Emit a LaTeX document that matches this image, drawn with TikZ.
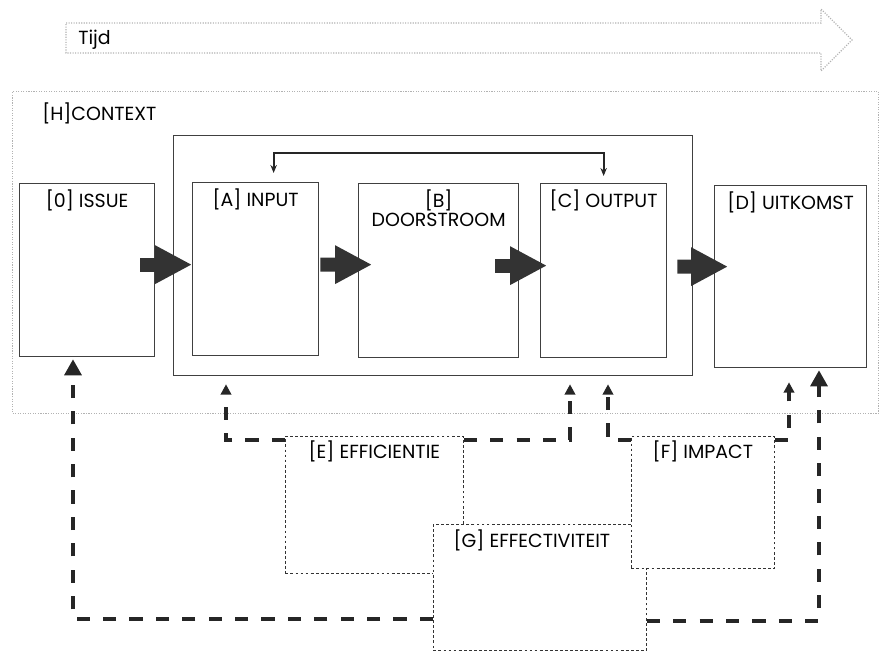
\documentclass[tikz,border=0pt]{standalone}
\usepackage{fontspec}
\setmainfont{Poppins}
\usetikzlibrary{arrows.meta}

\begin{document}
\begin{tikzpicture}[
    font=\fontsize{13.5}{14.2}\selectfont,
    box/.style={draw=black!75, line width=0.9pt, anchor=north west, inner sep=0pt},
    area/.style={draw=black!80, line width=0.6pt, dash pattern=on 2pt off 1.6pt,
        fill=white, anchor=north west, inner sep=0pt},
    faint/.style={draw=black!30, line width=0.8pt, dash pattern=on 0.8pt off 1pt},
    head/.style={anchor=north, inner sep=0pt, yshift=-0.15cm},
    bigarrow/.style={draw=black!80, line width=0.35cm,
        -{Triangle[length=0.925cm,width=0.9cm]}},
    flow/.style={draw=black!85, line width=2.6pt, dash pattern=on 0.33cm off 0.33cm,
        -{Triangle[length=0.26cm,width=0.26cm]}},
    bigflow/.style={flow, -{Triangle[length=0.4cm,width=0.42cm]}},
    fb/.style={draw=black!85, line width=1.4pt,
        {Stealth[length=0.2cm,width=0.16cm]}-{Stealth[length=0.2cm,width=0.16cm]}}
]
    \useasboundingbox (0,0) rectangle (22,-16.275);

    % tijd
    \draw[faint] (1.65,-0.575) -- (20.525,-0.575) -- (20.525,-0.225)
        -- (21.3,-1.0) -- (20.525,-1.775) -- (20.525,-1.325) -- (1.65,-1.325) -- cycle;
    \node[anchor=west, inner sep=0pt] (tijd) at (1.95,-1.0) {Tijd};

    % context
    \node[faint, anchor=north west, inner sep=0pt,
        minimum width=21.65cm, minimum height=8.05cm] (ctx) at (0.3,-2.275) {};
    \node[anchor=west, inner sep=0pt] (ctxt) at (1.05,-2.825) {[H]CONTEXT};

    \node[box, minimum width=12.975cm, minimum height=6cm] (sys) at (4.325,-3.375) {};

    \node[box, minimum width=3.375cm, minimum height=4.325cm] (iss) at (0.475,-4.575) {};
    \node[box, minimum width=3.15cm, minimum height=4.325cm] (inp) at (4.8,-4.55) {};
    \node[box, minimum width=4cm, minimum height=4.35cm] (doors) at (8.95,-4.575) {};
    \node[box, minimum width=3.15cm, minimum height=4.35cm] (outp) at (13.5,-4.575) {};
    \node[box, minimum width=3.8cm, minimum height=4.55cm] (uitk) at (17.85,-4.625) {};

    \node[head] (isst) at (iss.north) {[0] ISSUE};
    \node[head] (inpt) at (inp.north) {[A] INPUT};
    \node[head, align=center] (doorst) at (doors.north) {[B]\\DOORSTROOM};
    \node[head] (outpt) at (outp.north) {[C] OUTPUT};
    \node[head] (uitkt) at (uitk.north) {[D] UITKOMST};

    \draw[bigarrow] ([xshift=-0.375cm,yshift=0.1375cm]iss.east) -- ([yshift=0.1125cm]inp.west);
    \draw[bigarrow] ([xshift=0.025cm,yshift=0.1125cm]inp.east) -- ([xshift=0.35cm,yshift=0.15cm]doors.west);
    \draw[bigarrow] ([xshift=-0.6cm,yshift=0.125cm]doors.east) -- ([xshift=0.175cm,yshift=0.125cm]outp.west);
    \draw[bigarrow] ([xshift=0.25cm,yshift=0.1cm]outp.east) -- ([xshift=0.35cm,yshift=0.25cm]uitk.west);

    \draw[fb] ([xshift=0.45cm,yshift=0.225cm]inp.north) -- ++(0,0.5)
        -| ([yshift=0.175cm]outp.north);

    % efficientie, effectiviteit, impact
    \node[area, minimum width=4.45cm, minimum height=3.425cm] (effi) at (7.125,-10.9) {};
    \node[area, minimum width=5.325cm, minimum height=3.15cm] (effe) at (10.825,-13.1) {};
    \node[area, minimum width=3.575cm, minimum height=3.3cm] (imp) at (15.775,-10.9) {};

    \node[head, yshift=0.05cm] (effit) at (effi.north) {[E] EFFICIENTIE};
    \node[head, xshift=-0.2cm, yshift=0.02cm] (effet) at (effe.north) {[G] EFFECTIVITEIT};
    \node[head, yshift=0.03cm] (impt) at (imp.north) {[F] IMPACT};

    \draw[flow] ([yshift=-0.1cm]effi.north west) -| ([xshift=1.325cm,yshift=-0.2cm]sys.south west);
    \draw[flow] ([yshift=-0.1cm]effi.north east) -| ([xshift=9.925cm,yshift=-0.2cm]sys.south west);
    \draw[flow] ([yshift=-0.1cm]imp.north west) -| ([xshift=10.875cm,yshift=-0.2cm]sys.south west);
    \draw[flow] ([yshift=-0.1cm]imp.north east) -| ([xshift=1.875cm,yshift=-0.35cm]uitk.south west);
    \draw[bigflow] ([yshift=0.8cm]effe.south west) -| ([xshift=1.35cm,yshift=-0.05cm]iss.south west);
    \draw[bigflow] ([yshift=0.75cm]effe.south east) -| ([xshift=2.625cm,yshift=-0.05cm]uitk.south west);
\end{tikzpicture}
\end{document}
